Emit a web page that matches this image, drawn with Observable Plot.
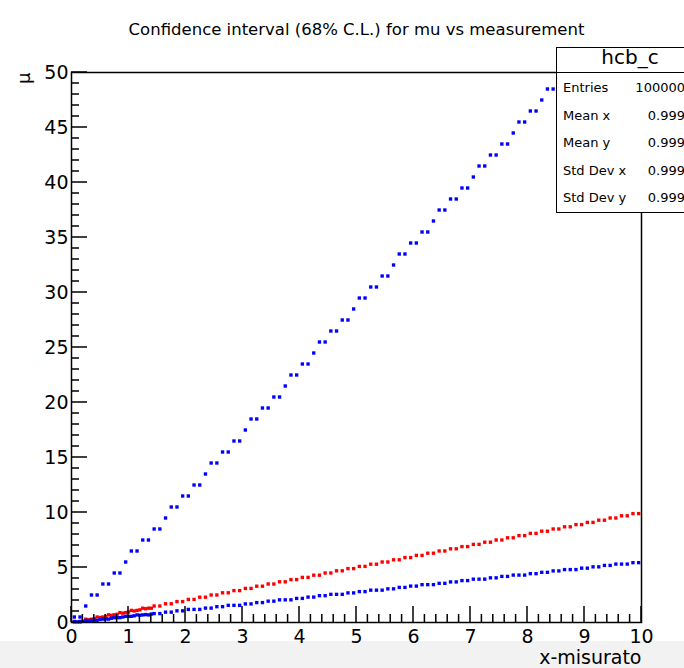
<!DOCTYPE html>
<html>
<head>
<meta charset="utf-8">
<script src="https://cdn.jsdelivr.net/npm/d3@7"></script>
<script src="https://cdn.jsdelivr.net/npm/@observablehq/plot@0.6"></script>
<style>
  html, body { margin: 0; padding: 0; background: white; overflow: hidden; }
  #band { position: absolute; left: 0; top: 641px; width: 684px; height: 27px; background: #f2f2f2; z-index: 0; }
  #chart { position: absolute; left: 0; top: 0; width: 684px; height: 668px; z-index: 1; }
  #ticks { position: absolute; left: 0; top: 0; width: 684px; height: 668px; z-index: 2; pointer-events: none; }
  #stats { position: absolute; left: 556px; top: 47px; width: 140px; height: 164px; background: white;
           border: 1.5px solid black; z-index: 3; font-family: "DejaVu Sans"; color: black; }
  #stats .head { position: absolute; left: 0; top: 0; width: 146px; height: 23.5px; border-bottom: 1.5px solid black;
                 font-size: 20px; line-height: 23px; }
  #stats .head span { position: absolute; left: 73px; transform: translateX(-50%); top: -2px; }
  #stats .row { position: absolute; left: 6px; width: 122px; font-size: 13px; line-height: 16px; }
  #stats .row .v { position: absolute; right: 0; top: 0; }
</style>
</head>
<body>
<div id="band"></div>
<div id="chart"></div>
<div id="ticks"></div>
<div id="stats"></div>
<script>
// ---- Data ----
const chartTitle = "Confidence interval (68% C.L.) for mu vs measurement";
const xTitle = "x-misurato";
const yTitle = "μ";

const binX = [0.05,0.15,0.25,0.35,0.45,0.55,0.65,0.75,0.85,0.95,
  1.05,1.15,1.25,1.35,1.45,1.55,1.65,1.75,1.85,1.95,
  2.05,2.15,2.25,2.35,2.45,2.55,2.65,2.75,2.85,2.95,
  3.05,3.15,3.25,3.35,3.45,3.55,3.65,3.75,3.85,3.95,
  4.05,4.15,4.25,4.35,4.45,4.55,4.65,4.75,4.85,4.95,
  5.05,5.15,5.25,5.35,5.45,5.55,5.65,5.75,5.85,5.95,
  6.05,6.15,6.25,6.35,6.45,6.55,6.65,6.75,6.85,6.95,
  7.05,7.15,7.25,7.35,7.45,7.55,7.65,7.75,7.85,7.95,
  8.05,8.15,8.25,8.35,8.45,8.55,8.65,8.75,8.85,8.95,
  9.05,9.15,9.25,9.35,9.45,9.55,9.65,9.75,9.85,9.95];

// upper limit of the belt (blue), until it leaves the frame at mu = 50
const upperMu = [0.5,0.5,1.5,2.5,2.5,3.5,3.5,4.5,4.5,5.5,
  6.5,6.5,7.5,7.5,8.5,8.5,9.5,10.5,10.5,11.5,
  11.5,12.5,12.5,13.5,14.5,14.5,15.5,15.5,16.5,16.5,
  17.5,18.5,18.5,19.5,19.5,20.5,20.5,21.5,22.5,22.5,
  23.5,23.5,24.5,25.5,25.5,26.5,26.5,27.5,27.5,28.5,
  29.5,29.5,30.5,30.5,31.5,31.5,32.5,33.5,33.5,34.5,
  34.5,35.5,35.5,36.5,37.5,37.5,38.5,38.5,39.5,39.5,
  40.5,41.5,41.5,42.5,42.5,43.5,43.5,44.5,45.5,45.5,
  46.5,46.5,47.5,48.5,48.5,49.5,49.5];

// central value (red)
const centralMu = [0.1,0.1,0.3,0.3,0.5,0.5,0.7,0.7,0.9,0.9,
  1.1,1.1,1.3,1.3,1.5,1.5,1.7,1.7,1.9,1.9,
  2.1,2.1,2.3,2.3,2.5,2.5,2.7,2.7,2.9,2.9,
  3.1,3.1,3.3,3.3,3.5,3.5,3.7,3.7,3.9,3.9,
  4.1,4.1,4.3,4.3,4.5,4.5,4.7,4.7,4.9,4.9,
  5.1,5.1,5.3,5.3,5.5,5.5,5.7,5.7,5.9,5.9,
  6.1,6.1,6.3,6.3,6.5,6.5,6.7,6.7,6.9,6.9,
  7.1,7.1,7.3,7.3,7.5,7.5,7.7,7.7,7.9,7.9,
  8.1,8.1,8.3,8.3,8.5,8.5,8.7,8.7,8.9,8.9,
  9.1,9.1,9.3,9.3,9.5,9.5,9.7,9.7,9.9,9.9];

// lower limit of the belt (blue)
const lowerMu = [0.06,0.06,0.19,0.19,0.19,0.31,0.31,0.44,0.44,0.56,
  0.56,0.69,0.69,0.69,0.81,0.81,0.94,0.94,1.06,1.06,
  1.19,1.19,1.19,1.31,1.31,1.44,1.44,1.56,1.56,1.56,
  1.69,1.69,1.81,1.81,1.94,1.94,2.06,2.06,2.06,2.19,
  2.19,2.31,2.31,2.44,2.44,2.56,2.56,2.56,2.69,2.69,
  2.81,2.81,2.94,2.94,2.94,3.06,3.06,3.19,3.19,3.31,
  3.31,3.44,3.44,3.44,3.56,3.56,3.69,3.69,3.81,3.81,
  3.94,3.94,3.94,4.06,4.06,4.19,4.19,4.31,4.31,4.31,
  4.44,4.44,4.56,4.56,4.69,4.69,4.81,4.81,4.81,4.94,
  4.94,5.06,5.06,5.19,5.19,5.31,5.31,5.31,5.44,5.44];

// denser filling near the origin
const denseX = [0.1,0.2,0.3,0.4,0.5,0.6,0.7,0.8,0.9,1.0,1.1,1.2,1.3,1.4];
const denseCentral = [null,null,0.25,0.35,0.45,0.55,0.65,0.75,0.85,0.95,1.05,1.15,1.25,1.3];
const denseLower = [0.06,0.11,0.17,0.22,0.28,0.33,0.39,0.44,0.5,0.55,0.61,0.66,0.72,0.77];

const xMajor = [0,1,2,3,4,5,6,7,8,9,10];
const yMajor = [0,5,10,15,20,25,30,35,40,45,50];

const statsName = "hcb_c";
const statLabels = ["Entries","Mean x","Mean y","Std Dev x","Std Dev y"];
const statValues = ["100000","0.999","0.999","0.999","0.999"];

// ---- Build ----
const xMinor = d3.range(0, 10.001, 0.2).map(v => +v.toFixed(1)).filter(v => !xMajor.includes(v));
const yMinor = d3.range(0, 50.001, 1).filter(v => !yMajor.includes(v));

const rows = (xs, ys, s) => xs.map((x, i) => ({x, y: ys[i], s})).filter(d => d.y != null);
const points = [
  ...rows(binX, centralMu, "central"),
  ...rows(denseX, denseCentral, "central"),
  ...rows(binX, lowerMu, "lower"),
  ...rows(denseX, denseLower, "lower"),
  ...rows(binX, upperMu, "upper")
];

const R = 1.9;

const svg = Plot.plot({
  width: 684,
  height: 668,
  marginLeft: 71,
  marginRight: 43,
  marginTop: 72,
  marginBottom: 46,
  style: {fontFamily: "DejaVu Sans", fontSize: "19px", background: "transparent", color: "black"},
  x: {domain: [0, 10], label: null},
  y: {domain: [0, 50], label: null},
  color: {domain: ["central", "lower", "upper"], range: ["#ff0000", "#0000ff", "#0000ff"]},
  marks: [
    Plot.frame({strokeWidth: 1.5}),
    Plot.axisX(xMajor, {tickSize: 0, tickPadding: 7, fontSize: 19, label: null}),
    Plot.axisY(yMajor, {tickSize: 0, tickPadding: 3, fontSize: 19, label: null}),
    Plot.dot(points, {x: "x", y: "y", fill: "s", symbol: "square", r: R}),
    Plot.text([chartTitle], {text: d => d, frameAnchor: "top", dy: -49, fontSize: 16.5}),
    Plot.text([xTitle], {text: d => d, frameAnchor: "bottom-right", textAnchor: "end", lineAnchor: "bottom", dy: 41, fontSize: 19}),
    Plot.text([yTitle], {text: d => d, frameAnchor: "top-left", rotate: -90, textAnchor: "end", lineAnchor: "bottom", dx: -42, fontSize: 18})
  ]
});
document.getElementById("chart").appendChild(svg);

// inward ROOT-style ticks on an overlay, positioned with the plot's own scales
const sx = svg.scale("x"), sy = svg.scale("y");
const fx0 = sx.range[0], fy0 = sy.range[0];
const ov = d3.select("#ticks").append("svg")
  .attr("width", 684).attr("height", 668).attr("viewBox", "0 0 684 668")
  .style("display", "block");
const tg = ov.append("g").attr("stroke", "#000").attr("stroke-width", 1.5).attr("fill", "none");
const addX = (vals, L) => vals.forEach(v => {
  const px = sx.apply(v);
  tg.append("path").attr("d", `M${px},${fy0}V${fy0 - L}`);
});
const addY = (vals, L) => vals.forEach(v => {
  const py = sy.apply(v);
  tg.append("path").attr("d", `M${fx0},${py}H${fx0 + L}`);
});
addX(xMajor, 16); addX(xMinor, 8);
addY(yMajor, 16); addY(yMinor, 8);

// statistics box
const stats = d3.select("#stats");
stats.append("div").attr("class", "head").append("span").text(statsName);
const tops = [32, 60, 87, 115, 142];
statLabels.forEach((s, i) => {
  const r = stats.append("div").attr("class", "row").style("top", tops[i] + "px");
  r.append("span").text(s);
  r.append("span").attr("class", "v").text(statValues[i]);
});
</script>
</body>
</html>
